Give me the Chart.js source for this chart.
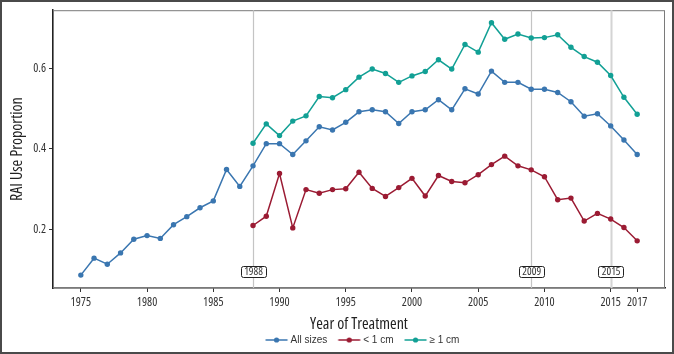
<!DOCTYPE html>
<html>
<head>
<meta charset="utf-8">
<script src="https://cdn.jsdelivr.net/npm/chart.js@4/dist/chart.umd.min.js"></script>
<style>
  html, body { margin: 0; padding: 0; background: #fff; }
  #wrap { width: 674px; height: 354px; position: relative; }
</style>
</head>
<body>
<div id="wrap"><canvas id="grafico" width="674" height="354"></canvas></div>
<script>
// data
const anos = [];
for (let a = 1975; a <= 2017; a++) anos.push(a);
const anosSub = anos.filter(a => a >= 1988);

const todos = [0.087, 0.129, 0.114, 0.142, 0.176, 0.185, 0.178, 0.212, 0.232, 0.254,
    0.271, 0.349, 0.307, 0.358, 0.413, 0.413, 0.386, 0.420, 0.455, 0.447,
    0.466, 0.492, 0.497, 0.492, 0.463, 0.492, 0.497, 0.522, 0.497, 0.549,
    0.536, 0.593, 0.565, 0.565, 0.548, 0.548, 0.540, 0.517, 0.481, 0.487,
    0.457, 0.422, 0.386];
const menor1 = [0.210, 0.233, 0.339, 0.204, 0.299, 0.290, 0.299, 0.301, 0.342, 0.302,
    0.282, 0.304, 0.327, 0.283, 0.334, 0.319, 0.316, 0.336, 0.361, 0.382,
    0.358, 0.348, 0.331, 0.274, 0.278, 0.221, 0.240, 0.226, 0.205, 0.172];
const maior1 = [0.414, 0.462, 0.433, 0.469, 0.482, 0.530, 0.527, 0.547, 0.578, 0.598,
    0.587, 0.565, 0.581, 0.592, 0.621, 0.598, 0.659, 0.640, 0.713, 0.672,
    0.685, 0.675, 0.676, 0.683, 0.652, 0.629, 0.615, 0.582, 0.528, 0.486];

const xTicks = [1975, 1980, 1985, 1990, 1995, 2000, 2005, 2010, 2015, 2017];
const yTicks = [0.2, 0.4, 0.6];
const marcos = [1988, 2009, 2015];

const corAzul = '#3a76b0';
const corVermelho = '#9b1b33';
const corVerde = '#12a095';

// Open Sans has a condensed width; Chart.js puts "weight" right before the size,
// so 'condensed' goes there
const familia = '"Open Sans", Arial, sans-serif';
const fonte = (size) => ({ family: familia, size: size, weight: 'condensed' });

const pares = (xs, ys) => xs.map((x, i) => ({ x: x, y: ys[i] }));

// legend glyph: line with a dot, padded so the text sits close to the line
const glifo = (cor) => {
    const c = document.createElement('canvas');
    c.width = 36; c.height = 8;
    const g = c.getContext('2d');
    g.strokeStyle = cor; g.lineWidth = 1.5;
    g.beginPath(); g.moveTo(11.5, 4); g.lineTo(33.5, 4); g.stroke();
    g.fillStyle = cor;
    g.beginPath(); g.arc(22.5, 4, 2.6, 0, Math.PI * 2); g.fill();
    return c;
};

const serie = (label, dados, cor) => ({
    label: label,
    data: dados,
    borderColor: cor,
    backgroundColor: cor,
    borderWidth: 1.5,
    pointRadius: 2.7,
    pointBorderWidth: 0,
    pointHoverRadius: 3,
    tension: 0,
    legendGlyph: glifo(cor)
});

const moldura = {
    id: 'moldura',
    beforeDatasetsDraw(chart) {
        const { ctx, chartArea: a, scales: { x } } = chart;
        ctx.save();
        ctx.strokeStyle = '#7a7a7a';
        ctx.lineWidth = 1;
        ctx.strokeRect(a.left + 0.5, a.top + 0.5, a.right - a.left - 1, a.bottom - a.top - 1);
        marcos.forEach(ano => {
            const px = Math.round(x.getPixelForValue(ano)) + 0.5;
            ctx.strokeStyle = ano === 2015 ? '#d4d4d4' : '#c4c4c4';
            ctx.lineWidth = ano === 2015 ? 2 : 1.2;
            ctx.beginPath(); ctx.moveTo(px, a.top); ctx.lineTo(px, a.bottom); ctx.stroke();
        });
        ctx.restore();
    },
    afterDatasetsDraw(chart) {
        const { ctx, chartArea: a, scales: { x } } = chart;
        ctx.save();
        ctx.font = 'condensed 11px ' + familia;
        ctx.textAlign = 'center';
        ctx.textBaseline = 'middle';
        marcos.forEach(ano => {
            const px = x.getPixelForValue(ano);
            const py = a.bottom - 17;
            const w = 25, h = 11;
            ctx.fillStyle = '#fff';
            ctx.strokeStyle = '#222';
            ctx.lineWidth = 1;
            ctx.beginPath();
            ctx.roundRect(Math.round(px - w / 2) + 0.5, Math.round(py - h / 2) + 0.5, w, h, 2);
            ctx.fill(); ctx.stroke();
            ctx.fillStyle = '#333';
            ctx.fillText(String(ano), px + 0.5, py + 1);
        });
        ctx.restore();
    },
    afterDraw(chart) {
        const { ctx, width, height } = chart;
        ctx.save();
        ctx.strokeStyle = '#4a4a4a';
        ctx.lineWidth = 2;
        ctx.strokeRect(1, 1, width - 2, height - 2);
        ctx.restore();
    }
};

const ctx = document.getElementById('grafico').getContext('2d');
const grafico = new Chart(ctx, {
    type: 'line',
    data: {
        datasets: [
            serie('All sizes', pares(anos, todos), corAzul),
            serie('< 1 cm', pares(anosSub, menor1), corVermelho),
            serie('\u2265 1 cm', pares(anosSub, maior1), corVerde)
        ]
    },
    options: {
        responsive: false,
        animation: false,
        devicePixelRatio: 1,
        layout: { padding: { left: 0, right: 9, top: 9, bottom: -1 } },
        scales: {
            x: {
                type: 'linear',
                min: 1972.9,
                max: 2019.1,
                afterBuildTicks: (s) => { s.ticks = xTicks.map(v => ({ value: v })); },
                afterFit: (s) => { s.height = 43; },
                ticks: {
                    color: '#333',
                    font: fonte(12),
                    padding: 3,
                    maxRotation: 0,
                    autoSkip: false,
                    callback: (v) => String(v)
                },
                grid: { display: true, drawOnChartArea: false, tickLength: 4, color: '#333', lineWidth: 1 },
                border: { display: true, color: '#222', width: 1.5 },
                title: {
                    display: true,
                    text: 'Year of Treatment',
                    color: '#222',
                    font: fonte(16),
                    padding: { top: 3, bottom: -3 }
                }
            },
            y: {
                type: 'linear',
                min: 0.055,
                max: 0.744,
                afterBuildTicks: (s) => { s.ticks = yTicks.map(v => ({ value: v })); },
                afterFit: (s) => { s.width = 53; },
                ticks: {
                    color: '#333',
                    font: fonte(12),
                    padding: 3,
                    callback: (v) => v.toFixed(1)
                },
                grid: { display: true, drawOnChartArea: false, tickLength: 4, color: '#333', lineWidth: 1 },
                border: { display: true, color: '#222', width: 1.5 },
                title: {
                    display: true,
                    text: 'RAI Use Proportion',
                    color: '#222',
                    font: fonte(16),
                    padding: { top: 8, bottom: 0 }
                }
            }
        },
        plugins: {
            legend: {
                position: 'bottom',
                fullSize: false,
                labels: {
                    usePointStyle: true,
                    pointStyleWidth: 27,
                    color: '#333',
                    font: { family: 'Arial, "Liberation Sans", sans-serif', size: 10 },
                    padding: 4,
                    generateLabels: (chart) => chart.data.datasets.map((d, i) => ({
                        text: d.label,
                        pointStyle: d.legendGlyph,
                        fillStyle: d.borderColor,
                        strokeStyle: d.borderColor,
                        lineWidth: 0,
                        fontColor: '#333',
                        hidden: false,
                        datasetIndex: i
                    }))
                }
            },
            tooltip: { enabled: false }
        }
    },
    plugins: [moldura]
});
</script>
</body>
</html>
